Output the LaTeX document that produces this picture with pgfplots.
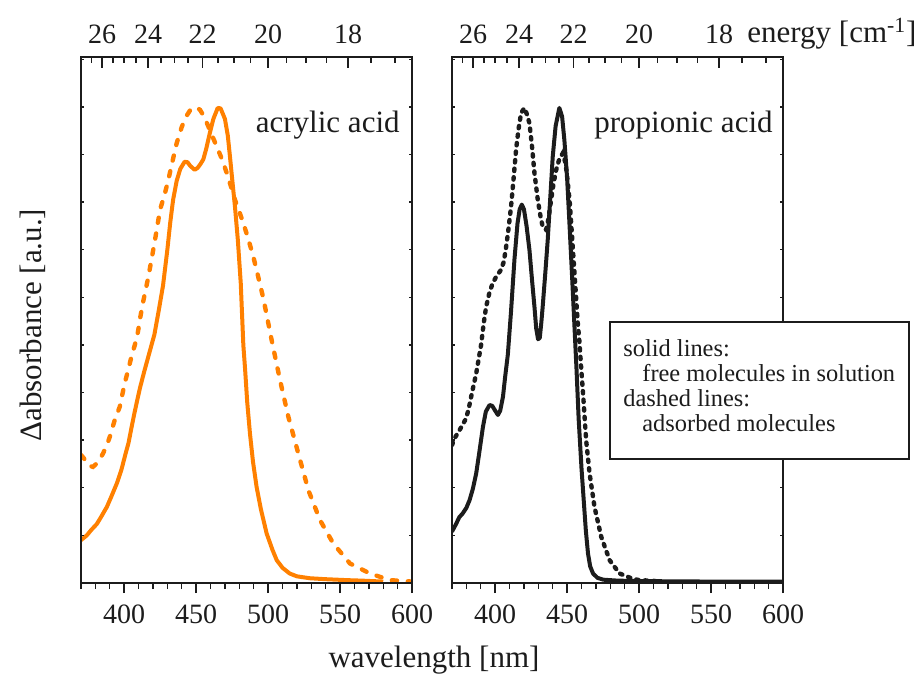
\documentclass[border=0pt]{standalone}
\usepackage{fontspec}
\setmainfont{Liberation Serif}
\usepackage{pgfplots}
\pgfplotsset{compat=1.18}

\definecolor{acrylic}{RGB}{255,128,0}
\definecolor{ink}{RGB}{28,28,28}

% spectra: wavelength [nm] vs. normalised absorbance change
\pgfplotstableread{
lambda A
370 0.090
374 0.100
377 0.111
381 0.124
384 0.139
388 0.160
391 0.181
395 0.210
398 0.237
401 0.272
403 0.294
405 0.325
407 0.355
409 0.383
411 0.410
414 0.445
417 0.478
421 0.522
424 0.572
427 0.625
430 0.700
432 0.757
434 0.805
436.5 0.845
439 0.870
442 0.885
444 0.884
446 0.876
449 0.868
451 0.872
453 0.880
455 0.890
457 0.912
459.5 0.945
462 0.975
465 0.998
467 0.997
470 0.975
472 0.940
473.5 0.896
475 0.850
477 0.790
479 0.720
481 0.630
482.8 0.500
484 0.450
485.5 0.380
487.4 0.314
489.5 0.255
492 0.202
495 0.155
499 0.104
503 0.070
506 0.048
510 0.032
515 0.020
520 0.014
529 0.010
540 0.008
555 0.006
565 0.005
580 0.003
}\acrylicsol

\pgfplotstableread{
lambda A
370 0.269
372 0.262
374 0.252
376 0.246
378.3 0.244
380.5 0.250
383 0.260
385.3 0.272
388 0.290
390 0.307
393.4 0.342
396.9 0.370
400.4 0.420
403 0.450
405 0.475
407.4 0.500
409.6 0.528
411 0.555
413 0.588
416.8 0.643
421.4 0.720
424.9 0.784
428 0.815
430.7 0.847
433.5 0.885
436.5 0.924
440 0.958
443.5 0.982
446 0.994
448 0.998
450.5 0.999
452.7 0.994
455.5 0.980
458.5 0.959
461.5 0.937
464.3 0.917
468 0.890
471.3 0.861
474 0.835
477 0.805
480 0.780
482.8 0.756
486 0.725
489.7 0.686
493 0.645
496.7 0.598
502.5 0.510
508.3 0.426
514.1 0.349
521 0.272
528 0.195
536.1 0.132
545.3 0.083
556.9 0.041
570.8 0.020
584.7 0.006
600 0.003
}\acrylicads

\pgfplotstableread{
lambda A
370 0.108
373 0.125
375 0.138
377.4 0.146
380 0.158
382.2 0.174
384.5 0.198
386.8 0.230
389 0.275
391.5 0.328
393.5 0.360
396.1 0.374
398 0.372
400 0.362
401.9 0.353
403.5 0.362
405.4 0.391
407 0.435
408.8 0.480
411 0.570
413.4 0.680
415.5 0.755
417 0.785
418.5 0.795
420 0.785
421.8 0.750
423.8 0.700
425.5 0.640
427.3 0.580
428.5 0.535
429.8 0.512
431 0.515
432 0.545
433 0.580
434.8 0.650
436.5 0.720
438.3 0.810
440 0.896
442 0.960
444.6 0.998
446.5 0.980
448.1 0.930
450 0.850
451.6 0.756
453.5 0.640
455 0.545
456.5 0.450
458 0.345
460 0.240
461.5 0.175
463 0.110
464.5 0.062
466 0.035
468 0.020
471 0.011
475 0.007
485 0.005
500 0.004
550 0.003
600 0.003
}\propionicsol

\pgfplotstableread{
lambda A
370 0.290
372 0.305
375.2 0.321
377.5 0.333
379.8 0.346
381.5 0.365
383.3 0.391
385 0.415
386.8 0.440
388.5 0.470
390.2 0.500
392 0.545
393.7 0.580
396 0.610
398.3 0.630
401 0.645
404.1 0.658
406 0.675
407.6 0.706
409.3 0.745
411 0.790
412.8 0.850
414.5 0.910
416.3 0.955
418 0.987
420.3 0.998
422 0.985
423.8 0.966
425.5 0.920
427.3 0.861
429.6 0.805
431.5 0.770
433 0.749
435.4 0.742
437 0.765
438.9 0.805
440.6 0.840
442.4 0.868
444.5 0.890
447 0.903
449 0.880
450.5 0.840
451.8 0.800
452.8 0.756
455.1 0.651
457.4 0.546
458.6 0.505
459.7 0.454
460.9 0.405
463.2 0.300
465.6 0.230
469 0.160
473.7 0.097
479.5 0.048
486.4 0.020
494.5 0.010
500 0.006
507.3 0.005
512 0.004
}\propionicads

\pgfplotsset{
  panel/.style={
    scale only axis, width=165.5pt, height=263pt,
    xmin=370, xmax=600, ymin=0, ymax=1.105,
    axis line style={line width=0.8pt, ink},
    every tick/.append style={line width=0.7pt, ink},
    /pgf/number format/assume math mode=true,
    ticklabel style={font=\fontsize{14}{16}\selectfont, text=ink},
  },
  % bottom axis: wavelength, ticks pointing out
  wavelength axis/.style={panel,
    xtick={400,450,...,600}, minor xtick={370,380,...,600},
    xtick pos=left, tick align=outside,
    major tick length=5pt, minor tick length=3pt,
    xticklabel style={yshift=-2.5pt},
    ytick=\empty,
  },
  % top axis: energy in 10^3 cm^-1, ticks pointing in
  energy axis/.style={panel,
    xtick={384.62,416.67,454.55,500,555.56},
    xticklabels={26,24,22,20,18},
    minor xtick={377.36,392.16,400,408.16,425.53,434.78,444.44,465.12,
                 476.19,487.80,512.82,526.32,540.54,571.43,588.24},
    xtick pos=right, xticklabel pos=right, tick align=inside,
    major tick length=5.5pt, minor tick length=3pt,
    xticklabel style={yshift=3pt},
    ytick=\empty,
  },
  % short inward ticks on both vertical sides
  absorbance ticks/.style={panel,
    xtick=\empty, ytick={0,0.1,...,1.1}, yticklabels={},
    ytick pos=both, tick align=inside, major tick length=1.6pt,
  },
  solution/.style={line width=2pt, line join=round},
  adsorbed acrylic/.style={line width=2.2pt, line cap=round,
    dash pattern=on 2.6pt off 5.4pt},
  adsorbed propionic/.style={line width=2.2pt, line cap=round,
    dash pattern=on 1.2pt off 3.1pt},
}

\begin{document}
\begin{tikzpicture}
\useasboundingbox (0,0) rectangle (457pt,337.5pt);

% ---- acrylic acid ----
\begin{axis}[wavelength axis, at={(40.5pt,46pt)}, anchor=south west]
  \addplot[solution, acrylic] table[x=lambda, y=A] {\acrylicsol};
  \addplot[adsorbed acrylic, acrylic] table[x=lambda, y=A] {\acrylicads};
\end{axis}
\begin{axis}[energy axis, at={(40.5pt,46pt)}, anchor=south west]
\end{axis}
\begin{axis}[absorbance ticks, at={(40.5pt,46pt)}, anchor=south west]
\end{axis}

% ---- propionic acid ----
\begin{axis}[wavelength axis, at={(226pt,46pt)}, anchor=south west]
  \addplot[solution, ink] table[x=lambda, y=A] {\propionicsol};
  \addplot[adsorbed propionic, ink] table[x=lambda, y=A] {\propionicads};
\end{axis}
\begin{axis}[energy axis, at={(226pt,46pt)}, anchor=south west]
\end{axis}
\begin{axis}[absorbance ticks, at={(226pt,46pt)}, anchor=south west]
\end{axis}

% titles and axis labels
\begin{scope}[every node/.style={inner sep=0pt, text=ink}]
  \node[anchor=base east, font=\fontsize{15.5}{18}\selectfont] at (200pt,271pt) {acrylic acid};
  \node[anchor=base east, font=\fontsize{15.5}{18}\selectfont] at (386.5pt,271pt) {propionic acid};
  \node[anchor=base west, font=\fontsize{15.5}{18}\selectfont] at (373.5pt,316pt) {energy [cm\textsuperscript{-1}]};
  \node[anchor=base, font=\fontsize{15.5}{18}\selectfont] at (217pt,4pt) {wavelength [nm]};
  \node[anchor=base, rotate=90, font=\fontsize{15.5}{18}\selectfont] at (20.85pt,175pt) {Δabsorbance [a.u.]};
\end{scope}

% line-style key
\draw[line width=0.65pt, ink, fill=white] (305pt,108pt) rectangle (454.5pt,176.5pt);
\begin{scope}[every node/.style={inner sep=0pt, anchor=base west, text=ink,
    font=\fontsize{12.2}{14}\selectfont}]
  \node at (311.5pt,159.2pt) {solid lines:};
  \node at (321pt,146.7pt) {free molecules in solution};
  \node at (311.5pt,134.2pt) {dashed lines:};
  \node at (321pt,121.7pt) {adsorbed molecules};
\end{scope}
\end{tikzpicture}
\end{document}
